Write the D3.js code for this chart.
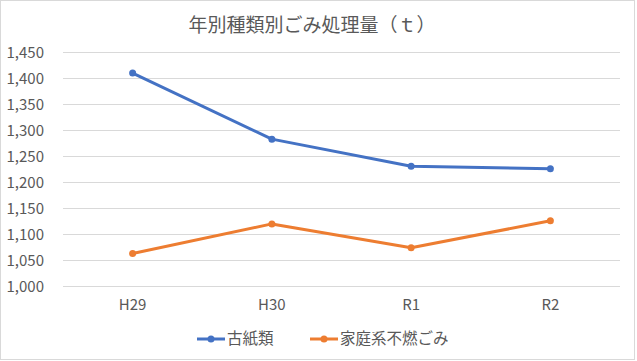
<!DOCTYPE html>
<html>
<head>
<meta charset="utf-8">
<script src="https://cdn.jsdelivr.net/npm/d3@7"></script>
<style>
  body { margin: 0; background: #fff; }
  text { font-family: "Noto Sans CJK JP", "Noto Sans", sans-serif; fill: #595959; }
</style>
</head>
<body>
<div id="chart"></div>
<script>
var years = ["H29", "H30", "R1", "R2"];
var paper = [1410, 1283, 1231, 1226];      // 古紙類
var nonburn = [1063, 1120, 1074, 1126];    // 家庭系不燃ごみ
var yTicks = [1000, 1050, 1100, 1150, 1200, 1250, 1300, 1350, 1400, 1450];
var seriesNames = ["古紙類", "家庭系不燃ごみ"];
var colors = ["#4472C4", "#ED7D31"];

var W = 637, H = 361;
var margin = { left: 63, right: 17, top: 52, bottom: 75 };

var svg = d3.select("#chart").append("svg")
    .attr("width", W)
    .attr("height", H);

// chart border
svg.append("rect")
    .attr("x", 0.5).attr("y", 0.5)
    .attr("width", 634).attr("height", 359)
    .attr("fill", "#fff")
    .attr("stroke", "#d9d9d9");

var x = d3.scaleBand()
    .domain(years)
    .range([margin.left, W - margin.right]);

var y = d3.scaleLinear()
    .domain([1000, 1450])
    .range([286.3, 52.3]);

// gridlines
svg.append("g").selectAll("line")
    .data(yTicks).enter()
    .append("line")
    .attr("x1", margin.left)
    .attr("x2", W - margin.right)
    .attr("y1", function(d){ return Math.round(y(d)) + 0.5 })
    .attr("y2", function(d){ return Math.round(y(d)) + 0.5 })
    .attr("stroke", "#d9d9d9")
    .attr("stroke-width", 1);

// y labels
svg.append("g").selectAll("text")
    .data(yTicks).enter()
    .append("text")
    .attr("x", 44)
    .attr("y", function(d){ return y(d) })
    .attr("dy", "0.35em")
    .attr("text-anchor", "end")
    .style("font-size", "15px")
    .text(function(d){ return d3.format(",")(d) });

// x labels
svg.append("g").selectAll("text")
    .data(years).enter()
    .append("text")
    .attr("x", function(d){ return x(d) + x.bandwidth() / 2 })
    .attr("y", 305)
    .attr("dy", "0.35em")
    .attr("text-anchor", "middle")
    .style("font-size", "15px")
    .text(function(d){ return d });

// title
svg.append("text")
    .attr("x", 312)
    .attr("y", 25)
    .attr("dy", "0.35em")
    .attr("text-anchor", "middle")
    .style("font-size", "19px")
    .text("年別種類別ごみ処理量（ｔ）");

var line = d3.line()
    .x(function(d, i){ return x(years[i]) + x.bandwidth() / 2 })
    .y(function(d){ return y(d) });

[paper, nonburn].forEach(function(series, k) {
    svg.append("path")
        .datum(series)
        .attr("d", line)
        .attr("fill", "none")
        .attr("stroke", colors[k])
        .attr("stroke-width", 3)
        .attr("stroke-linejoin", "round");

    svg.append("g").selectAll("circle")
        .data(series).enter()
        .append("circle")
        .attr("cx", function(d, i){ return x(years[i]) + x.bandwidth() / 2 })
        .attr("cy", function(d){ return y(d) })
        .attr("r", 3.5)
        .attr("fill", colors[k]);
});

// legend
var legendX = [197, 310];
var legend = svg.append("g").selectAll("g")
    .data(seriesNames).enter()
    .append("g")
    .attr("transform", function(d, i){ return "translate(" + legendX[i] + ",339)" });

legend.append("line")
    .attr("x1", 0).attr("x2", 28)
    .attr("stroke", function(d, i){ return colors[i] })
    .attr("stroke-width", 3);

legend.append("circle")
    .attr("cx", 14).attr("r", 3.5)
    .attr("fill", function(d, i){ return colors[i] });

legend.append("text")
    .attr("x", 30)
    .attr("dy", "0.35em")
    .style("font-size", "15.5px")
    .text(function(d){ return d });
</script>
</body>
</html>
